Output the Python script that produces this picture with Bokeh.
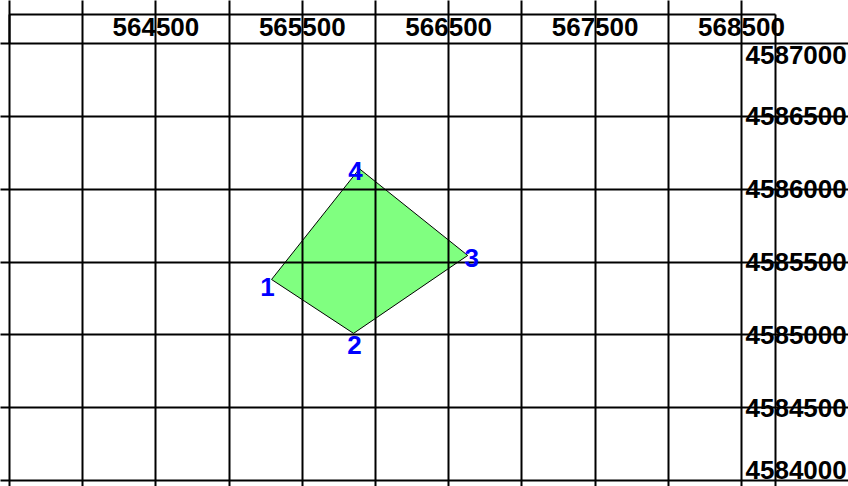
from bokeh.plotting import figure
from bokeh.models import Range1d, LinearAxis, FixedTicker, Grid
from bokeh.core.properties import value
from bokeh.embed import file_html
from bokeh.resources import INLINE

# ---------------- data ----------------
vertex_labels = ["1", "2", "3", "4"]
vertex_x = [565290, 565850, 566630, 565890]
vertex_y = [4585380, 4585010, 4585545, 4586140]

grid_x = [563500, 564000, 564500, 565000, 565500, 566000,
          566500, 567000, 567500, 568000, 568500]
grid_y = [4584000, 4584500, 4585000, 4585500, 4586000, 4586500, 4587000]

top_ticks = [564500, 565500, 566500, 567500, 568500]
top_labels = ["564500", "565500", "566500", "567500", "568500"]
right_ticks = [4584000, 4584500, 4585000, 4585500, 4586000, 4586500, 4587000]
right_labels = ["4584000", "4584500", "4585000", "4585500",
                "4586000", "4586500", "4587000"]

# ---------------- layout / style ----------------
W, H = 848, 486
PX_X = 732 / 5000.0          # pixels per map unit (x)
PX_Y = 437 / 3000.0          # pixels per map unit (y)
x_lo, x_hi = grid_x[0], grid_x[-1]
y_lo, y_hi = grid_y[0], grid_y[-1]
x0 = x_lo - 9 / PX_X
x1 = x0 + W / PX_X
y1 = y_hi + 43 / PX_Y
y0 = y1 - H / PX_Y
box_right = x_hi + 34 / PX_X
box_top = y_hi + 29 / PX_Y

label_dx = [-4, 1, 4, -4]
label_dy = [8, 12, 3, 2]

FONT = "Liberation Sans"

p = figure(width=W, height=H, x_range=Range1d(x0, x1), y_range=Range1d(y0, y1),
           output_backend="svg", toolbar_location=None, tools="",
           x_axis_location=None, y_axis_location=None, min_border=0)
p.title.text = ""
p.outline_line_color = None
p.background_fill_color = "white"
p.border_fill_color = "white"
p.center = []

# polygon
p.patch(vertex_x, vertex_y, fill_color="#80FF80", line_color="black", line_width=1)

# grid lines (over the polygon)
gx = Grid(dimension=0, ticker=FixedTicker(ticks=grid_x), bounds=(y_lo, y_hi),
          grid_line_color="black", grid_line_width=2, level="annotation")
gy = Grid(dimension=1, ticker=FixedTicker(ticks=grid_y), bounds=(x_lo, x_hi),
          grid_line_color="black", grid_line_width=2, level="annotation")
p.add_layout(gx)
p.add_layout(gy)

# vertex labels
t = p.text(vertex_x, vertex_y, text=vertex_labels, text_color="#0000FF",
           text_font=value(FONT), text_font_style="bold",
           text_font_size="26px", text_align="center", text_baseline="middle",
           x_offset=label_dx, y_offset=label_dy)
t.level = "overlay"

# outer box lines
box = p.multi_line(xs=[[x_lo, box_right], [x_lo, x_lo], [box_right, box_right]],
                   ys=[[box_top, box_top], [box_top, y_hi], [box_top, y0]],
                   line_color="black", line_width=2)
box.level = "overlay"


def style_axis(ax, standoff):
    ax.axis_line_color = None
    ax.major_tick_line_color = None
    ax.minor_tick_line_color = None
    ax.major_tick_out = 0
    ax.major_tick_in = 0
    ax.major_label_standoff = standoff
    ax.major_label_text_font = FONT
    ax.major_label_text_font_style = "bold"
    ax.major_label_text_font_size = "26px"
    ax.major_label_text_color = "black"


ax_top = LinearAxis(ticker=FixedTicker(ticks=top_ticks),
                    major_label_overrides={k: v for k, v in zip(top_ticks, top_labels)},
                    fixed_location=y_hi)
style_axis(ax_top, 8)
p.add_layout(ax_top, "above")

# right-hand labels: end labels are kept inside the grid box (nudged inward)
r_pos = list(right_ticks)
r_pos[0] = int(round(y_lo + 10 / PX_Y))
r_pos[-1] = int(round(y_hi - 12 / PX_Y))
ax_r = LinearAxis(ticker=FixedTicker(ticks=r_pos),
                  major_label_overrides={k: v for k, v in zip(r_pos, right_labels)},
                  fixed_location=x_hi)
style_axis(ax_r, 4)
ax_r.major_label_text_align = "left"
ax_r.major_label_text_baseline = "middle"
p.add_layout(ax_r, "right")

open("out.html", "w").write(file_html(p, INLINE))
